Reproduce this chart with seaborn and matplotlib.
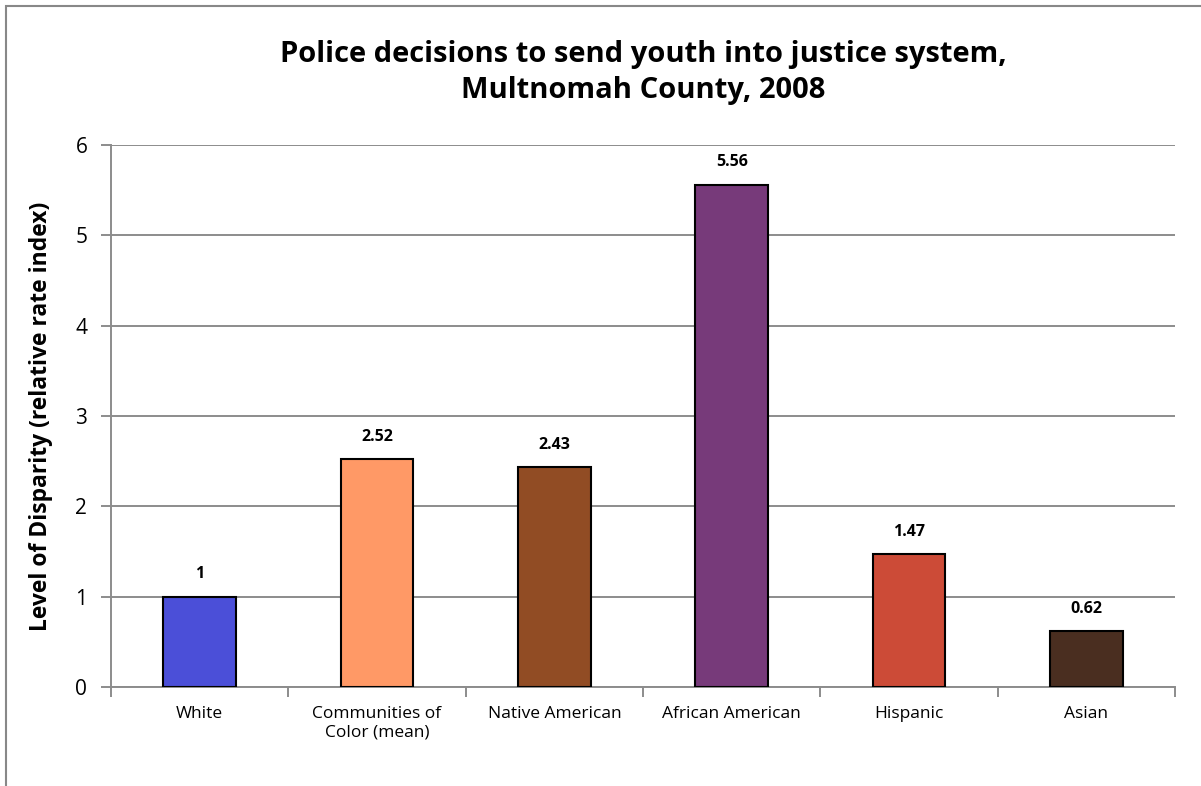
import numpy as np
import pandas as pd
import matplotlib
matplotlib.use("Agg")
import matplotlib.pyplot as plt
import seaborn as sns
from matplotlib.patches import Rectangle

# datos
categorias = ["White", "Communities of\nColor (mean)", "Native American",
              "African American", "Hispanic", "Asian"]
valores = [1, 2.52, 2.43, 5.56, 1.47, 0.62]
etiquetas = ["1", "2.52", "2.43", "5.56", "1.47", "0.62"]
colores = ["#4B4FD8", "#FF9966", "#914C24", "#773A7A", "#CC4B37", "#4A2E20"]

df = pd.DataFrame({"grupo": categorias, "valor": valores})

sns.set_theme(style="white")
plt.rcParams["font.family"] = ["Open Sans", "DejaVu Sans"]
plt.rcParams["text.color"] = "black"
plt.rcParams["axes.labelcolor"] = "black"
plt.rcParams["xtick.labelcolor"] = "black"
plt.rcParams["ytick.labelcolor"] = "black"

fig = plt.figure(figsize=(12.01, 7.86), dpi=100)
ax = fig.add_axes([0.0924, 0.126, 0.886, 0.6895])

# marco exterior del gráfico
fig.patches.append(Rectangle((6 / 1201, -0.1), 1.2, 1 - 6 / 786 + 0.1,
                             transform=fig.transFigure, fill=False,
                             edgecolor="#888888", linewidth=1.5))

sns.barplot(data=df, x="grupo", y="valor", hue="grupo", palette=colores,
            legend=False, width=0.41, edgecolor="black", linewidth=1.5,
            saturation=1, ax=ax, zorder=3)

for i, (v, t) in enumerate(zip(valores, etiquetas)):
    ax.text(i, v + 0.16, t, ha="center", va="bottom", fontsize=11.5,
            fontweight="bold", color="black")

ax.set_ylim(0, 6)
ax.set_xlim(-0.5, 5.5)
ax.set_yticks(range(0, 7))
ax.yaxis.grid(True, color="#8C8C8C", linewidth=1.4, zorder=0)
ax.set_axisbelow(True)

for s in ["top", "right"]:
    ax.spines[s].set_visible(False)
for s in ["left", "bottom"]:
    ax.spines[s].set_color("#8C8C8C")
    ax.spines[s].set_linewidth(1.4)

ax.set_xticks(np.arange(-0.5, 6, 1), minor=True)
ax.tick_params(axis="x", which="major", length=0, pad=14, labelsize=12.5)
ax.tick_params(axis="x", which="minor", length=7, width=1.4, color="#8C8C8C",
               direction="out", bottom=True)
ax.tick_params(axis="y", length=7, width=1.4, color="#8C8C8C", direction="out",
               left=True, labelsize=15, pad=10)

ax.set_xlabel("")
ax.set_ylabel("Level of Disparity (relative rate index)", fontsize=16.5,
              fontweight="bold", labelpad=16)

fig.text(0.5354, 0.908, "Police decisions to send youth into justice system,\nMultnomah County, 2008",
         ha="center", va="center", fontsize=21, fontweight="bold",
         linespacing=1.3)

fig.savefig("out.png", dpi=100)
